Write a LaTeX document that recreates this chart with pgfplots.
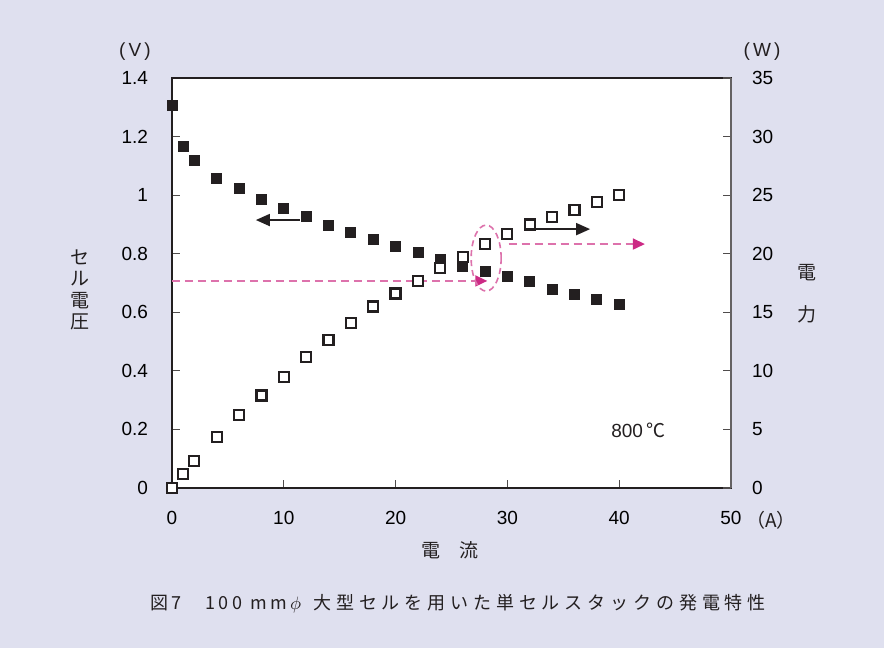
\documentclass[border=0pt]{standalone}
\usepackage{pgfplots}
\pgfplotsset{compat=1.18}
\usepackage{pgfplotstable}
\usepackage{fontspec}
\setmainfont{Liberation Sans}
\newfontfamily\cjk{Noto Sans CJK JP}
\usetikzlibrary{arrows.meta}
\definecolor{bg}{HTML}{DFE0EF}
\definecolor{mag}{HTML}{CC2A85}
\definecolor{magl}{HTML}{DD72AC}
\definecolor{ink}{HTML}{231F20}

\pgfplotstableread{
I  V     P
0  1.308 0.0
1  1.168 1.2
2  1.120 2.3
4  1.058 4.35
6  1.024 6.2
8  0.987 7.9
10 0.956 9.5
12 0.929 11.2
14 0.898 12.6
16 0.874 14.1
18 0.850 15.5
20 0.826 16.6
22 0.806 17.7
24 0.782 18.8
26 0.758 19.7
28 0.741 20.8
30 0.724 21.7
32 0.707 22.5
34 0.679 23.1
36 0.662 23.7
38 0.645 24.4
40 0.628 25.0
}\data

\begin{document}
\begin{tikzpicture}[font=\fontsize{9.5}{11}\selectfont]
\fill[bg] (-86pt,-80pt) rectangle (356pt,244pt);
\begin{axis}[at={(0,0)},anchor=south west,
  scale only axis, width=279.5pt, height=205pt,
  xmin=0, xmax=50, ymin=0, ymax=1.4,
  xtick={0,10,20,30,40,50}, xticklabels={0,10,20,30,40,50},
  ytick={0,0.2,0.4,0.6,0.8,1,1.2,1.4},
  yticklabels={0,0.2,0.4,0.6,0.8,1,1.2,1.4},
  xtick pos=left, ytick pos=left, tick align=inside,
  major tick length=4pt,
  tick style={ink!80, line width=0.6pt},
  axis line style={ink, line width=0.7pt},
  axis background/.style={fill=white},
  /pgf/number format/assume math mode=true,
  yticklabel style={xshift=-8.5pt},
  xticklabel style={yshift=-8pt},
  clip=false]
\addplot[only marks, mark=square*, mark size=2.5pt, ink] table[x=I,y=V]{\data};
\draw[ink, line width=0.9pt, -{Triangle[length=7pt,width=6pt]}] (axis cs:11.45,0.915) -- (axis cs:7.5,0.915);
\draw[ink, line width=0.9pt, -{Triangle[length=7pt,width=6pt]}] (axis cs:32,0.884) -- (axis cs:37.4,0.884);
\draw[magl, dash pattern=on 4pt off 2.5pt, line width=0.8pt, -{Triangle[length=6pt,width=5.5pt,color=mag]}] (axis cs:0,0.707) -- (axis cs:28.2,0.707);
\draw[magl, dash pattern=on 4pt off 2.5pt, line width=0.8pt, -{Triangle[length=6pt,width=5.5pt,color=mag]}] (axis cs:30.1,0.833) -- (axis cs:42.3,0.833);
\draw[magl, dash pattern=on 3pt off 2pt, line width=0.8pt] (axis cs:28.1,0.785) ellipse [x radius=7.5pt, y radius=16.5pt];
\node[ink] at (axis cs:41.7,0.198) {800\,{\cjk ℃}};
\end{axis}
\begin{axis}[at={(0,0)},anchor=south west,
  scale only axis, width=279.5pt, height=205pt,
  xmin=0, xmax=50, ymin=0, ymax=35,
  axis x line=none, axis y line*=right,
  ytick={0,5,10,15,20,25,30,35},
  yticklabels={0,5,10,15,20,25,30,35},
  tick align=inside, major tick length=4pt,
  tick style={ink!80, line width=0.6pt},
  axis line style={ink!70, line width=0.7pt},
  /pgf/number format/assume math mode=true,
  yticklabel style={xshift=7pt},
  clip=false]
\addplot[only marks, mark=square*, mark size=2.5pt, mark options={draw=ink, fill=white, line width=1.1pt}] table[x=I,y=P]{\data};
\end{axis}
\node[ink] at (-18.5pt,218pt) {(\,V\,)};
\node[ink] at (295pt,218pt) {(\,W\,)};
\node[ink, font=\cjk\fontsize{9.5}{11}\selectfont] at (299.5pt,-16pt) {（A）};
\node[ink, font=\cjk\fontsize{9.5}{10.75}\selectfont, align=center] at (-46pt,99pt) {セ\\ル\\電\\圧};
\node[ink, font=\cjk\fontsize{9.5}{21}\selectfont, align=center] at (317.5pt,97pt) {電\\力};
\node[ink, font=\cjk\fontsize{9.5}{11}\selectfont] at (139pt,-31pt) {電\quad 流};
\node[ink, font=\cjk\fontsize{9}{11}\selectfont, anchor=base west, inner sep=0pt] at (-11pt,-61pt) {\addfontfeatures{LetterSpace=20}図7};
\node[ink, font=\cjk\fontsize{9}{11}\selectfont, anchor=base west, inner sep=0pt] at (16.5pt,-61pt) {\addfontfeatures{LetterSpace=20}100 mm\,$\phi$};
\node[ink, font=\cjk\fontsize{9}{11}\selectfont, anchor=base west, inner sep=0pt] at (70.5pt,-61pt) {\addfontfeatures{LetterSpace=27}大型セルを用いた単セルスタックの発電特性};
\end{tikzpicture}
\end{document}
